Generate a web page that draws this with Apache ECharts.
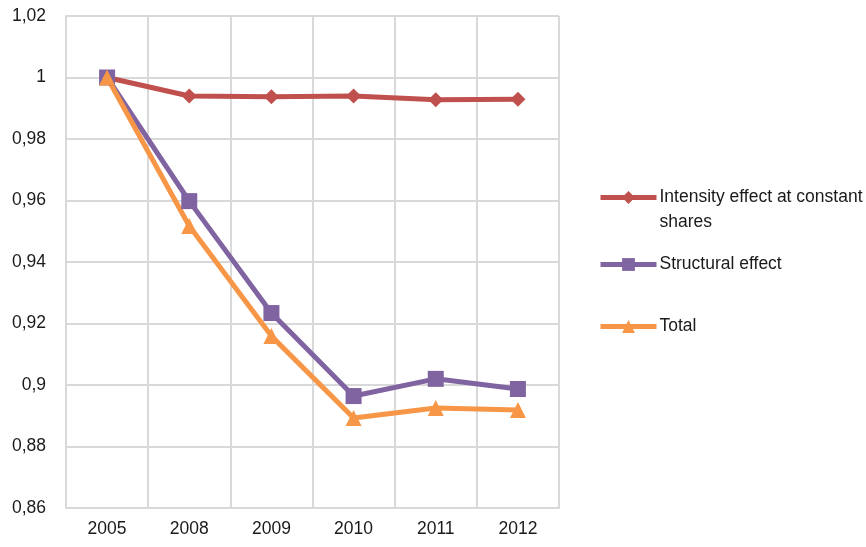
<!DOCTYPE html>
<html>
<head>
<meta charset="utf-8">
<script src="https://cdn.jsdelivr.net/npm/echarts@6/dist/echarts.min.js"></script>
<style>html,body{margin:0;padding:0;background:#fff}#c{width:866px;height:547px}</style>
</head>
<body>
<div id="c"></div>
<script>
const categories = ['2005', '2008', '2009', '2010', '2011', '2012'];
const intensity = [1.0, 0.994, 0.9937, 0.994, 0.9928, 0.9929];
const structural = [1.0, 0.9598, 0.9234, 0.8964, 0.902, 0.8987];
const total = [1.0, 0.9517, 0.9159, 0.8893, 0.8925, 0.8919];
const seriesNames = ['Intensity effect at constant shares', 'Structural effect', 'Total'];
const yMin = 0.86, yMax = 1.02, yStep = 0.02;

const FONT = '"Liberation Sans", Arial, sans-serif';
const TXT = '#1a1a1a';
const GRID = '#d9d9d9';
const colors = ['#C0504D', '#8064A2', '#F79646'];
const FS = 17.5;

const chart = echarts.init(document.getElementById('c'), null, {renderer: 'canvas'});

function legendCfg(name, top) {
  return {
    data: [name],
    left: 598,
    top: top,
    orient: 'vertical',
    itemWidth: 56,
    itemHeight: 16,
    itemGap: 0,
    padding: 0,
    lineStyle: {width: 5},
    textStyle: {
      fontFamily: FONT, fontSize: FS, color: TXT, lineHeight: 25,
      padding: [0, 0, 0, -2]
    },
    formatter: function (n) {
      return n === seriesNames[0] ? ' \nIntensity effect at constant\nshares' : n;
    }
  };
}

chart.setOption({
  animation: false,
  backgroundColor: '#fff',
  color: colors,
  grid: {left: 66, right: 307, top: 16, bottom: 39, containLabel: false},
  legend: [
    legendCfg(seriesNames[0], 160),
    legendCfg(seriesNames[1], 252),
    legendCfg(seriesNames[2], 314)
  ],
  xAxis: {
    type: 'category',
    data: categories,
    boundaryGap: true,
    axisLine: {show: true, lineStyle: {color: GRID, width: 2}},
    axisTick: {show: false},
    splitLine: {show: true, lineStyle: {color: GRID, width: 2}},
    axisLabel: {fontFamily: FONT, fontSize: FS, color: TXT, margin: 12}
  },
  yAxis: {
    type: 'value',
    min: yMin, max: yMax, interval: yStep,
    axisLine: {show: true, lineStyle: {color: GRID, width: 2}},
    axisTick: {show: false},
    splitLine: {show: true, lineStyle: {color: GRID, width: 2}},
    axisLabel: {
      fontFamily: FONT, fontSize: FS, color: TXT, margin: 20,
      formatter: function (v) {
        return String(Math.round(v * 100) / 100).replace('.', ',');
      }
    }
  },
  series: [
    {
      name: seriesNames[0], type: 'line', data: intensity,
      symbol: 'diamond', symbolSize: 15,
      lineStyle: {width: 5, color: colors[0]},
      itemStyle: {color: colors[0]}
    },
    {
      name: seriesNames[1], type: 'line', data: structural,
      symbol: 'rect', symbolSize: 16,
      lineStyle: {width: 5, color: colors[1]},
      itemStyle: {color: colors[1]}
    },
    {
      name: seriesNames[2], type: 'line', data: total,
      symbol: 'triangle', symbolSize: 16,
      lineStyle: {width: 5, color: colors[2]},
      itemStyle: {color: colors[2]}
    }
  ]
});
</script>
</body>
</html>
